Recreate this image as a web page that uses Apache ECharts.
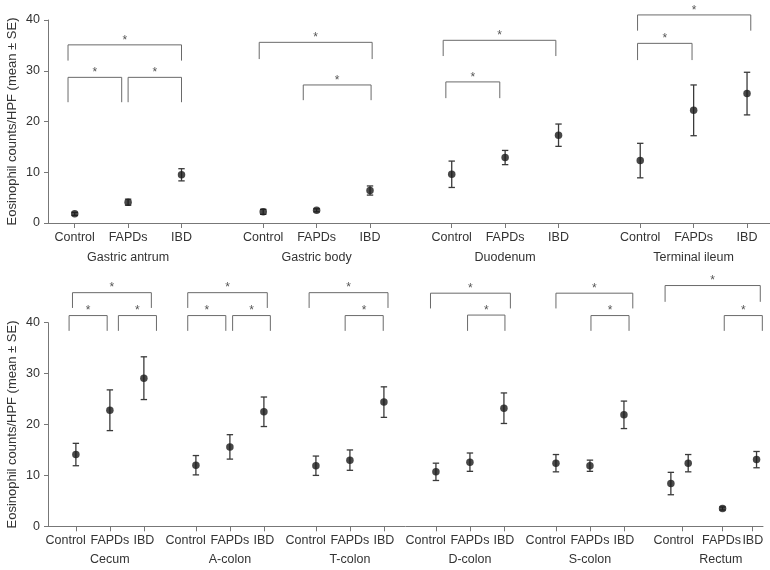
<!DOCTYPE html>
<html><head><meta charset="utf-8">
<script src="https://cdn.jsdelivr.net/npm/echarts@6/dist/echarts.min.js"></script>
<style>html,body{margin:0;padding:0;background:#fff}#c{width:770px;height:570px}</style>
</head><body><div id="c"></div>
<script>
// ---------- data ----------
const categories = ['Control', 'FAPDs', 'IBD'];
const topGroups = ['Gastric antrum', 'Gastric body', 'Duodenum', 'Terminal ileum'];
const topMeans = [[1.8, 4.1, 9.5], [2.2, 2.5, 6.4], [9.6, 12.9, 17.3], [12.3, 22.2, 25.5]];
const topSE    = [[0.3, 0.6, 1.2], [0.5, 0.3, 0.9], [2.6, 1.4, 2.2], [3.4, 5.0, 4.2]];
const botGroups = ['Cecum', 'A-colon', 'T-colon', 'D-colon', 'S-colon', 'Rectum'];
const botMeans = [[14.1, 22.8, 29.1], [12.0, 15.6, 22.5], [11.9, 13.0, 24.4], [10.7, 12.6, 23.2], [12.4, 11.9, 21.9], [8.4, 3.5, 13.1]];
const botSE    = [[2.2, 4.0, 4.2], [1.9, 2.4, 2.9], [1.9, 2.0, 3.0], [1.7, 1.8, 3.0], [1.7, 1.1, 2.7], [2.2, 0.3, 1.6]];
const rectumExtra = [12.4, 1.7]; // unlabeled extra point in the rectum panel (mean, SE)
const yTicks = [0, 10, 20, 30, 40];
// significance brackets: [group, from, to, bracket top, leg bottom] (from/to in category units)
const topBrackets = [
  [0, -0.125, 0.88, 28.7, 23.8], [0, 1.0, 2.0, 28.7, 23.8], [0, -0.125, 2.0, 35.1, 32.0],
  [1, 0.75, 2.02, 27.2, 24.2], [1, -0.075, 2.04, 35.6, 32.3],
  [2, -0.11, 0.9, 27.8, 24.6], [2, -0.16, 1.95, 36.0, 32.9],
  [3, -0.05, 0.97, 35.4, 32.1], [3, -0.05, 2.07, 41.0, 37.9]
];
const botBrackets = [
  [0, -0.2, 0.92, 41.4, 38.4], [0, 1.25, 2.37, 41.4, 38.4], [0, -0.1, 2.22, 45.9, 42.9],
  [1, -0.24, 0.88, 41.4, 38.4], [1, 1.08, 2.19, 41.4, 38.4], [1, -0.24, 2.1, 45.9, 42.9],
  [2, 0.86, 1.98, 41.4, 38.4], [2, -0.2, 2.12, 45.9, 42.9],
  [3, 0.93, 2.03, 41.5, 38.4], [3, -0.16, 2.19, 45.8, 42.8],
  [4, 1.03, 2.15, 41.4, 38.4], [4, 0, 2.26, 45.8, 42.8],
  [5, 1.42, 2.54, 41.4, 38.4], [5, -0.32, 2.48, 47.3, 44.1]
];

// ---------- layout ----------
const FONT = 'Liberation Sans, Arial, sans-serif';
const TXT = '#333';
const AX = '#777';
const rows = [
  { groups: topGroups, means: topMeans, se: topSE, brackets: topBrackets,
    grid: { left: 48, right: 0, top: 20, height: 203 }, max: 13.52, start: 0.5, period: 3.53,
    labelOff: [0, 0, 0], labelMargin: 8, nameMargin: 28 },
  { groups: botGroups, means: botMeans, se: botSE, brackets: botBrackets,
    grid: { left: 48, right: 7, top: 322.7, height: 203.6 }, max: 21.03, start: 0.82, period: 3.53,
    labelOff: [-0.3, 0, 0], labelMargin: 8, nameMargin: 27 }
];
// special offsets for the irregular rectum panel (bottom row, last group)
const rectumPointOff = [-0.15, 1.37, 2.37], rectumExtraOff = 0.36;
const rectumTickOff = [0.19, 1.36, 2.24], rectumLabelOff = [-0.07, 1.34, 2.26], rectumNameOff = 1.32;

const grids = [], xAxes = [], yAxes = [], series = [];

rows.forEach((row, r) => {
  grids.push(Object.assign({ outerBoundsMode: 'none', containLabel: false }, row.grid));
  const base = g => row.start + g * row.period;
  const isRect = g => r === 1 && g === 5;
  const tickVals = [], labelVals = [], labelTxt = [], nameVals = [], nameTxt = [];
  const pts = [], bars = [];
  row.groups.forEach((name, g) => {
    const b = base(g);
    categories.forEach((c, i) => {
      tickVals.push(b + (isRect(g) ? rectumTickOff[i] : i));
      labelVals.push(b + (isRect(g) ? rectumLabelOff[i] : i + row.labelOff[i]));
      labelTxt.push(c);
      const x = b + (isRect(g) ? rectumPointOff[i] : i);
      pts.push([x, row.means[g][i]]);
      bars.push([x, row.means[g][i], row.se[g][i]]);
    });
    if (isRect(g)) {
      const x = b + rectumExtraOff;
      pts.push([x, rectumExtra[0]]);
      bars.push([x, rectumExtra[0], rectumExtra[1]]);
    }
    nameVals.push(b + (isRect(g) ? rectumNameOff : 1));
    nameTxt.push(name);
  });
  const lookup = (vals, txt) => v => {
    for (let k = 0; k < vals.length; k++) if (Math.abs(vals[k] - v) < 1e-6) return txt[k];
    return '';
  };
  xAxes.push({
    type: 'value', gridIndex: r, position: 'bottom', min: 0, max: row.max,
    axisLine: { show: true, onZero: false, lineStyle: { color: AX, width: 1 } },
    axisTick: { show: true, length: 5, customValues: tickVals, lineStyle: { color: AX } },
    axisLabel: { customValues: labelVals, formatter: lookup(labelVals, labelTxt),
      showMinLabel: true, showMaxLabel: true, hideOverlap: false,
      color: TXT, fontSize: 12.5, fontFamily: FONT, margin: row.labelMargin },
    splitLine: { show: false }
  });
  xAxes.push({
    type: 'value', gridIndex: r, position: 'bottom', min: 0, max: row.max,
    axisLine: { show: false }, axisTick: { show: false },
    axisLabel: { customValues: nameVals, formatter: lookup(nameVals, nameTxt),
      showMinLabel: true, showMaxLabel: true, hideOverlap: false,
      color: TXT, fontSize: 12.5, fontFamily: FONT, margin: row.nameMargin },
    splitLine: { show: false }
  });
  yAxes.push({
    type: 'value', gridIndex: r, min: yTicks[0], max: yTicks[yTicks.length - 1], interval: yTicks[1] - yTicks[0],
    name: 'Eosinophil counts/HPF (mean \u00b1 SE)', nameLocation: 'middle', nameGap: 29, nameMoveOverlap: false,
    nameTextStyle: { color: TXT, fontSize: 13, fontFamily: FONT },
    axisLine: { show: true, lineStyle: { color: AX, width: 1 } },
    axisTick: { show: true, length: 4, lineStyle: { color: AX } },
    axisLabel: { color: TXT, fontSize: 12.5, fontFamily: FONT, margin: 8 },
    splitLine: { show: false }
  });
  const xi = r * 2;
  // error bars
  series.push({
    type: 'custom', xAxisIndex: xi, yAxisIndex: r, clip: false, silent: true, z: 2,
    data: bars,
    renderItem: (params, api) => {
      const x = api.value(0), m = api.value(1), s = api.value(2);
      const p1 = api.coord([x, m + s]), p2 = api.coord([x, m - s]);
      const w = 3.2, st = { stroke: '#3a3a3a', lineWidth: 1.3 };
      return { type: 'group', children: [
        { type: 'line', shape: { x1: p1[0], y1: p1[1], x2: p2[0], y2: p2[1] }, style: st },
        { type: 'line', shape: { x1: p1[0] - w, y1: p1[1], x2: p1[0] + w, y2: p1[1] }, style: st },
        { type: 'line', shape: { x1: p2[0] - w, y1: p2[1], x2: p2[0] + w, y2: p2[1] }, style: st }
      ] };
    }
  });
  // means
  series.push({
    type: 'scatter', xAxisIndex: xi, yAxisIndex: r, symbol: 'circle', symbolSize: 7.5, z: 3,
    itemStyle: { color: '#1a1a1a' }, data: pts, silent: true
  });
  // brackets
  series.push({
    type: 'custom', xAxisIndex: xi, yAxisIndex: r, clip: false, silent: true, z: 1,
    data: row.brackets.map(bk => [base(bk[0]) + bk[1], base(bk[0]) + bk[2], bk[3], bk[4]]),
    renderItem: (params, api) => {
      const x1 = api.value(0), x2 = api.value(1), yt = api.value(2), yl = api.value(3);
      const a = api.coord([x1, yl]), b = api.coord([x1, yt]), c = api.coord([x2, yt]), d = api.coord([x2, yl]);
      return { type: 'group', children: [
        { type: 'polyline', shape: { points: [a, b, c, d] }, style: { stroke: '#6a6a6a', lineWidth: 1, fill: null } },
        { type: 'text', x: (b[0] + c[0]) / 2, y: b[1] - 4.5,
          style: { text: '*', fill: '#555', fontSize: 12, fontFamily: FONT, align: 'center', verticalAlign: 'middle' } }
      ] };
    }
  });
});

const chart = echarts.init(document.getElementById('c'), null, { renderer: 'canvas' });
chart.setOption({
  animation: false,
  backgroundColor: '#fff',
  grid: grids, xAxis: xAxes, yAxis: yAxes, series: series
});
</script>
</body></html>
